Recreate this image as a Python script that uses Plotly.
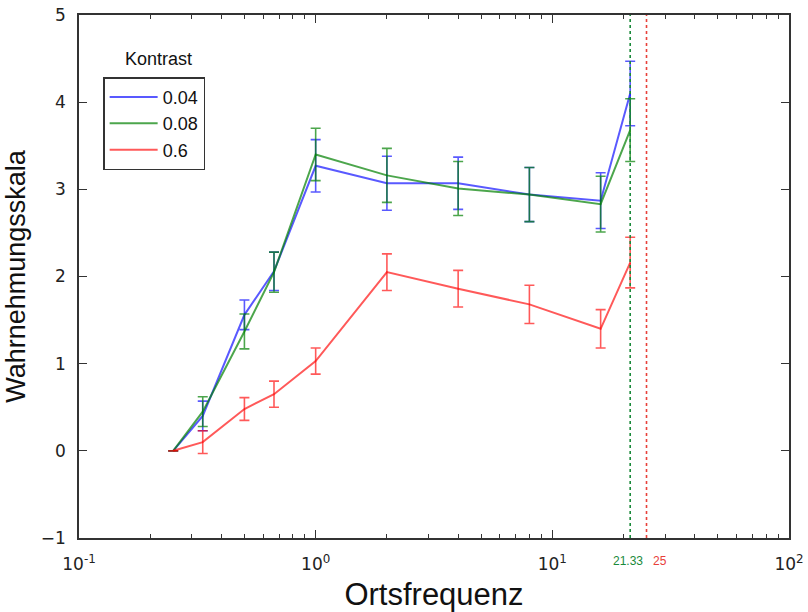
import numpy as np
import plotly.graph_objects as go

freq = [0.25, 0.3333, 0.5, 0.6667, 1.0, 2.0, 4.0, 8.0, 16.0, 21.33]
contrasts = ["0.04", "0.08", "0.6"]
vals_004 = [0.0, 0.40, 1.56, 2.06, 3.27, 3.07, 3.07, 2.94, 2.87, 4.10]
err_004 = [None, 0.17, 0.17, 0.22, 0.30, 0.31, 0.30, 0.31, 0.32, 0.37]
vals_008 = [0.0, 0.45, 1.37, 2.05, 3.40, 3.16, 3.01, 2.94, 2.83, 3.68]
err_008 = [None, 0.17, 0.20, 0.23, 0.30, 0.31, 0.31, 0.31, 0.32, 0.36]
vals_06 = [0.0, 0.10, 0.48, 0.65, 1.03, 2.05, 1.86, 1.68, 1.40, 2.16]
err_06 = [None, 0.13, 0.13, 0.15, 0.15, 0.21, 0.21, 0.22, 0.22, 0.29]
vlines = [21.33, 25]
vline_labels = ["21.33", "25"]
x_tickvals = [0.1, 1, 10, 100]
x_ticktext = ["10<sup>-1</sup>", "10<sup>0</sup>", "10<sup>1</sup>", "10<sup>2</sup>"]
y_tickvals = [-1, 0, 1, 2, 3, 4, 5]
y_ticktext = ["\u22121", "0", "1", "2", "3", "4", "5"]

colors = ["rgba(0,0,255,0.65)", "rgba(0,128,0,0.7)", "rgba(255,0,0,0.65)"]
vline_colors = ["#1a8a3a", "#e8403a"]

fig = go.Figure()
for name, v, e, c in zip(contrasts, [vals_004, vals_008, vals_06],
                         [err_004, err_008, err_06], colors):
    fig.add_trace(go.Scatter(
        x=freq, y=v, name=name, mode="lines",
        line=dict(color=c, width=2),
        error_y=dict(type="data", array=e, visible=True, color=c,
                     thickness=1.6, width=5),
    ))

for xv, col in zip(vlines, vline_colors):
    fig.add_trace(go.Scatter(
        x=[xv, xv], y=[-1, 5], mode="lines", showlegend=False,
        line=dict(color=col, width=1.6, dash="dot"), hoverinfo="skip",
    ))

for xv, lab, col, anc, sh in zip(vlines, vline_labels, vline_colors,
                                 ["center", "left"], [-2, 4]):
    fig.add_annotation(x=np.log10(xv), y=0, xref="x", yref="paper",
                       yanchor="top", xanchor=anc, xshift=sh, yshift=-14,
                       text=lab, showarrow=False,
                       font=dict(family="Liberation Sans, Arial", size=12, color=col))

fig.add_annotation(x=0.112, y=0.893, xref="paper", yref="paper",
                   text="Kontrast", showarrow=False, xanchor="center", yanchor="bottom",
                   font=dict(family="Liberation Sans, Arial", size=18, color="#111"))

axis_common = dict(
    showline=True, linecolor="#333", linewidth=1.5, mirror="ticks",
    ticks="inside", ticklen=8, tickwidth=1, tickcolor="#333",
    showgrid=False, zeroline=False, automargin=False,
    tickfont=dict(family="DejaVu Sans", size=17, color="#222"),
)

fig.update_xaxes(type="log", range=[-1, 2], tickmode="array",
                 tickvals=x_tickvals, ticktext=x_ticktext, ticklabelstandoff=10,
                 title=dict(text="Ortsfrequenz", font=dict(family="Liberation Sans, Arial", size=31, color="#111"), standoff=20),
                 minor=dict(ticks="inside", ticklen=4, tickcolor="#333", dtick="D1", showgrid=False),
                 **axis_common)
fig.update_yaxes(range=[-1, 5], tickmode="array", tickvals=y_tickvals, ticktext=y_ticktext,
                 ticklabelstandoff=8,
                 title=dict(text="Wahrnehmungsskala", font=dict(family="Liberation Sans, Arial", size=27, color="#111"), standoff=7),
                 **axis_common)

fig.update_layout(
    width=808, height=612,
    margin=dict(l=79, r=19, t=15, b=74),
    plot_bgcolor="white", paper_bgcolor="white",
    legend=dict(x=0.034, y=0.881, xanchor="left", yanchor="top",
                bordercolor="#333", borderwidth=1.5, bgcolor="white",
                font=dict(family="Liberation Sans, Arial", size=18, color="#111"),
                itemwidth=48, tracegroupgap=0),
    showlegend=True,
)

fig.write_html("out.html")
